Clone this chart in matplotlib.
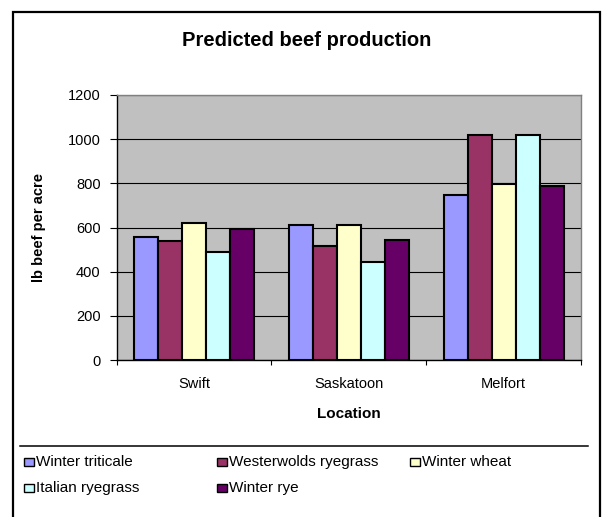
#!/usr/bin/env python3
"""Predicted beef production by location (Excel-style clustered bars)."""

import matplotlib

matplotlib.use("Agg")
import matplotlib.pyplot as plt
import numpy as np
from matplotlib.patches import Rectangle
from matplotlib.lines import Line2D

LOCATIONS = ["Swift", "Saskatoon", "Melfort"]
SERIES = [
    "Winter triticale",
    "Westerwolds ryegrass",
    "Winter wheat",
    "Italian ryegrass",
    "Winter rye",
]
WINTER_TRITICALE = [557, 612, 745]
WESTERWOLDS = [537, 518, 1020]
WINTER_WHEAT = [620, 612, 798]
ITALIAN = [488, 442, 1020]
WINTER_RYE = [595, 545, 790]
VALUES = [WINTER_TRITICALE, WESTERWOLDS, WINTER_WHEAT, ITALIAN, WINTER_RYE]
Y_TICKS = [0, 200, 400, 600, 800, 1000, 1200]

COLORS = ["#9999FF", "#993366", "#FFFFCC", "#CCFFFF", "#660066"]
W_PX, H_PX = 606, 517
DPI = 100
FONT = ["Liberation Sans", "DejaVu Sans"]

plt.rcParams["font.family"] = FONT


def fx(px):
    return px / W_PX


def fy(py):
    return 1 - py / H_PX


fig = plt.figure(figsize=(W_PX / DPI, H_PX / DPI), dpi=DPI)
fig.patch.set_facecolor("white")

# plot area in pixel coords of the reference
left, right, top, bottom = 116.7, 581.0, 95.0, 360.0
ax = fig.add_axes([fx(left), fy(bottom), fx(right - left), (bottom - top) / H_PX])
ax.set_facecolor("#C0C0C0")

x = np.arange(len(LOCATIONS))
width = 0.155
for i, (name, vals) in enumerate(zip(SERIES, VALUES)):
    ax.bar(x + (i - 2) * width, vals, width, color=COLORS[i], edgecolor="black",
           linewidth=1.5, label=name, zorder=3)

ax.set_xlim(-0.5, 2.5)
ax.set_ylim(0, 1200)
ax.set_yticks(Y_TICKS)
ax.yaxis.grid(True, color="black", linewidth=0.8)
ax.set_axisbelow(True)

ax.set_xticks(x)
ax.set_xticklabels(LOCATIONS, fontsize=10.5)
ax.set_xticks([-0.5, 0.5, 1.5, 2.5], minor=True)
ax.tick_params(axis="x", which="major", length=0, pad=12.5)
ax.tick_params(axis="x", which="minor", length=3.5, width=0.8)
ax.tick_params(axis="y", length=5, width=0.8, pad=6.5, labelsize=10.5)

for side in ("top", "right"):
    ax.spines[side].set_color("#808080")
    ax.spines[side].set_linewidth(1.0)
for side in ("left", "bottom"):
    ax.spines[side].set_color("black")
    ax.spines[side].set_linewidth(1.0)

ax.set_ylabel("lb beef per acre", fontsize=10.5, fontweight="bold")
ax.yaxis.set_label_coords((46 - left) / (right - left), 0.5)
ax.set_xlabel("Location", fontsize=11, fontweight="bold")
ax.xaxis.set_label_coords(0.5, -(407 - bottom) / (bottom - top))

fig.text(fx(307), fy(40), "Predicted beef production", fontsize=14.5,
         fontweight="bold", ha="center", va="center")

# outer chart frame (bottom edge runs off the image)
fig.add_artist(Rectangle((fx(13), -0.02), fx(600 - 13), fy(12) + 0.02,
                         transform=fig.transFigure, fill=False,
                         edgecolor="black", linewidth=1.6))
fig.add_artist(Line2D([fx(20), fx(588)], [fy(446), fy(446)],
                      transform=fig.transFigure, color="black", linewidth=1.1))

# legend laid out row-wise like Excel
legend_pos = [(24, 462), (217, 462), (410, 462), (24, 488), (217, 488)]
for (px, py), name, col in zip(legend_pos, SERIES, COLORS):
    fig.add_artist(Rectangle((fx(px), fy(py + 4)), fx(10), 8 / H_PX,
                             transform=fig.transFigure, facecolor=col,
                             edgecolor="black", linewidth=1.0))
    fig.text(fx(px + 12), fy(py), name, fontsize=11, ha="left", va="center")

fig.savefig("out.png", dpi=DPI)
